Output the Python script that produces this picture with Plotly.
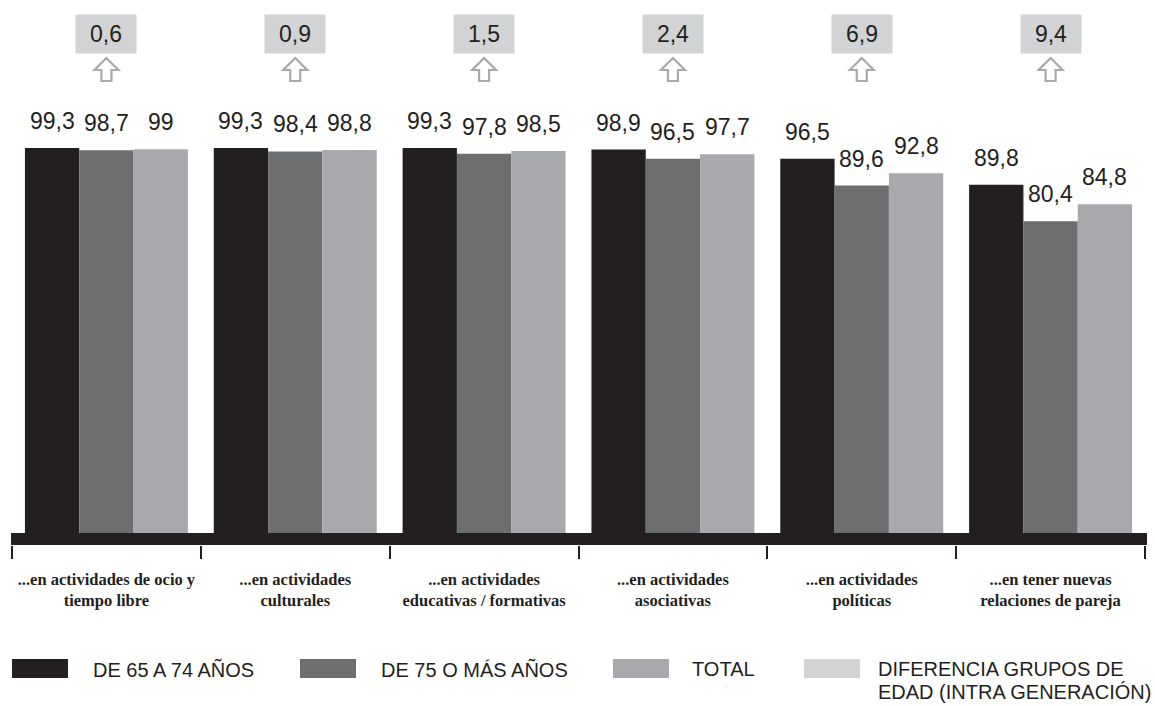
import plotly.graph_objects as go

# ---------------- data ----------------
categories = [
    "...en actividades de ocio y<br>tiempo libre",
    "...en actividades<br>culturales",
    "...en actividades<br>educativas / formativas",
    "...en actividades<br>asociativas",
    "...en actividades<br>políticas",
    "...en tener nuevas<br>relaciones de pareja",
]
de_65_74 = [99.3, 99.3, 99.3, 98.9, 96.5, 89.8]
de_75_mas = [98.7, 98.4, 97.8, 96.5, 89.6, 80.4]
total = [99.0, 98.8, 98.5, 97.7, 92.8, 84.8]
diferencia = [0.6, 0.9, 1.5, 2.4, 6.9, 9.4]

series_names = ["DE 65 A 74 AÑOS", "DE 75 O MÁS AÑOS", "TOTAL",
                "DIFERENCIA GRUPOS DE<br>EDAD (INTRA GENERACIÓN)"]
colors = ["#231f20", "#6d6e70", "#a7a9ac", "#d1d3d4"]
TXT = "#231f20"

def fmt(v):
    s = ("%.1f" % v).replace(".", ",")
    return s[:-2] if s.endswith(",0") else s

# ---------------- layout geometry ----------------
W, H = 1155, 706
ML, MR, MT, MB = 12, 10, 0, 161
PW = W - ML - MR
PH = H - MT - MB
BARGAP = 0.137
PX_PER_UNIT = 385 / 99.3
YMIN = -12 / PX_PER_UNIT
YMAX = (PH - 12) / PX_PER_UNIT

def py_data(p):  # pixel y (from top) -> data value
    return (PH - 12 - (p - MT)) / PX_PER_UNIT

def px_paper_x(p):
    return (p - ML) / PW

def px_paper_y(p):
    return (MT + PH - p) / PH

fig = go.Figure()
series = [de_65_74, de_75_mas, total]
for name, vals, col in zip(series_names[:3], series, colors[:3]):
    fig.add_trace(go.Bar(x=categories, y=vals, name=name, marker_color=col,
                         marker_line_width=0, showlegend=False,
                         hovertemplate="%{y}<extra>" + name + "</extra>"))

annotations = []
shapes = []
bw = (1 - BARGAP) / 3
for i in range(len(categories)):
    for k, vals in enumerate(series):
        annotations.append(dict(
            x=i + (k - 1) * bw, y=vals[i], xref="x", yref="y",
            text=fmt(vals[i]), showarrow=False, yanchor="bottom", yshift=12,
            font=dict(family="Liberation Sans, Arial", size=23, color=TXT)))
    # difference box
    annotations.append(dict(
        x=i, y=py_data(34), xref="x", yref="y", text=fmt(diferencia[i]),
        showarrow=False, xanchor="center", yanchor="middle",
        width=60, height=38, bgcolor=colors[3], borderpad=0,
        font=dict(family="Liberation Sans, Arial", size=23, color=TXT)))
    # hollow up arrow
    shapes.append(dict(
        type="path", xref="x", yref="y", xsizemode="pixel", ysizemode="pixel",
        xanchor=i, yanchor=py_data(82),
        path="M -5,1 L 5,1 L 5,12 L 12,12 L 0,24 L -12,12 L -5,12 Z",
        line=dict(color="#a7a9ac", width=2.2), fillcolor="white"))

# thick axis band
shapes.append(dict(type="rect", xref="paper", yref="y",
                   x0=px_paper_x(11), x1=px_paper_x(1147), y0=YMIN, y1=0,
                   fillcolor=TXT, line_width=0, layer="above"))

# manual legend
sw_x = [12, 300, 613, 804]
tx_x = [91, 379, 690, 876]
for j in range(4):
    shapes.append(dict(type="rect", xref="paper", yref="paper",
                       x0=px_paper_x(sw_x[j]), x1=px_paper_x(sw_x[j] + 56),
                       y0=px_paper_y(678), y1=px_paper_y(659),
                       fillcolor=colors[j], line_width=0))
    for li, line in enumerate(series_names[j].split("<br>")):
        annotations.append(dict(
            x=px_paper_x(tx_x[j]), y=px_paper_y(669 + 23 * li),
            xref="paper", yref="paper",
            text=line, showarrow=False, xanchor="left", yanchor="middle",
            align="left",
            font=dict(family="Liberation Sans, Arial", size=20, color=TXT)))

fig.update_layout(
    width=W, height=H,
    margin=dict(l=ML, r=MR, t=MT, b=MB),
    paper_bgcolor="white", plot_bgcolor="white",
    barmode="group", bargap=BARGAP, bargroupgap=0,
    showlegend=False,
    annotations=annotations, shapes=shapes,
    xaxis=dict(type="category", tickson="boundaries", ticks="outside",
               ticklen=13, tickwidth=2, tickcolor=TXT, showline=False,
               showgrid=False, zeroline=False, ticklabelstandoff=22,
               tickfont=dict(family="Liberation Serif, Times New Roman",
                             size=16.5, color=TXT, weight="bold")),
    yaxis=dict(range=[YMIN, YMAX], visible=False, showgrid=False,
               zeroline=False),
)

fig.write_html("out.html", config={"displayModeBar": False},
               post_script="document.body.style.margin='0';document.body.style.padding='0';")
